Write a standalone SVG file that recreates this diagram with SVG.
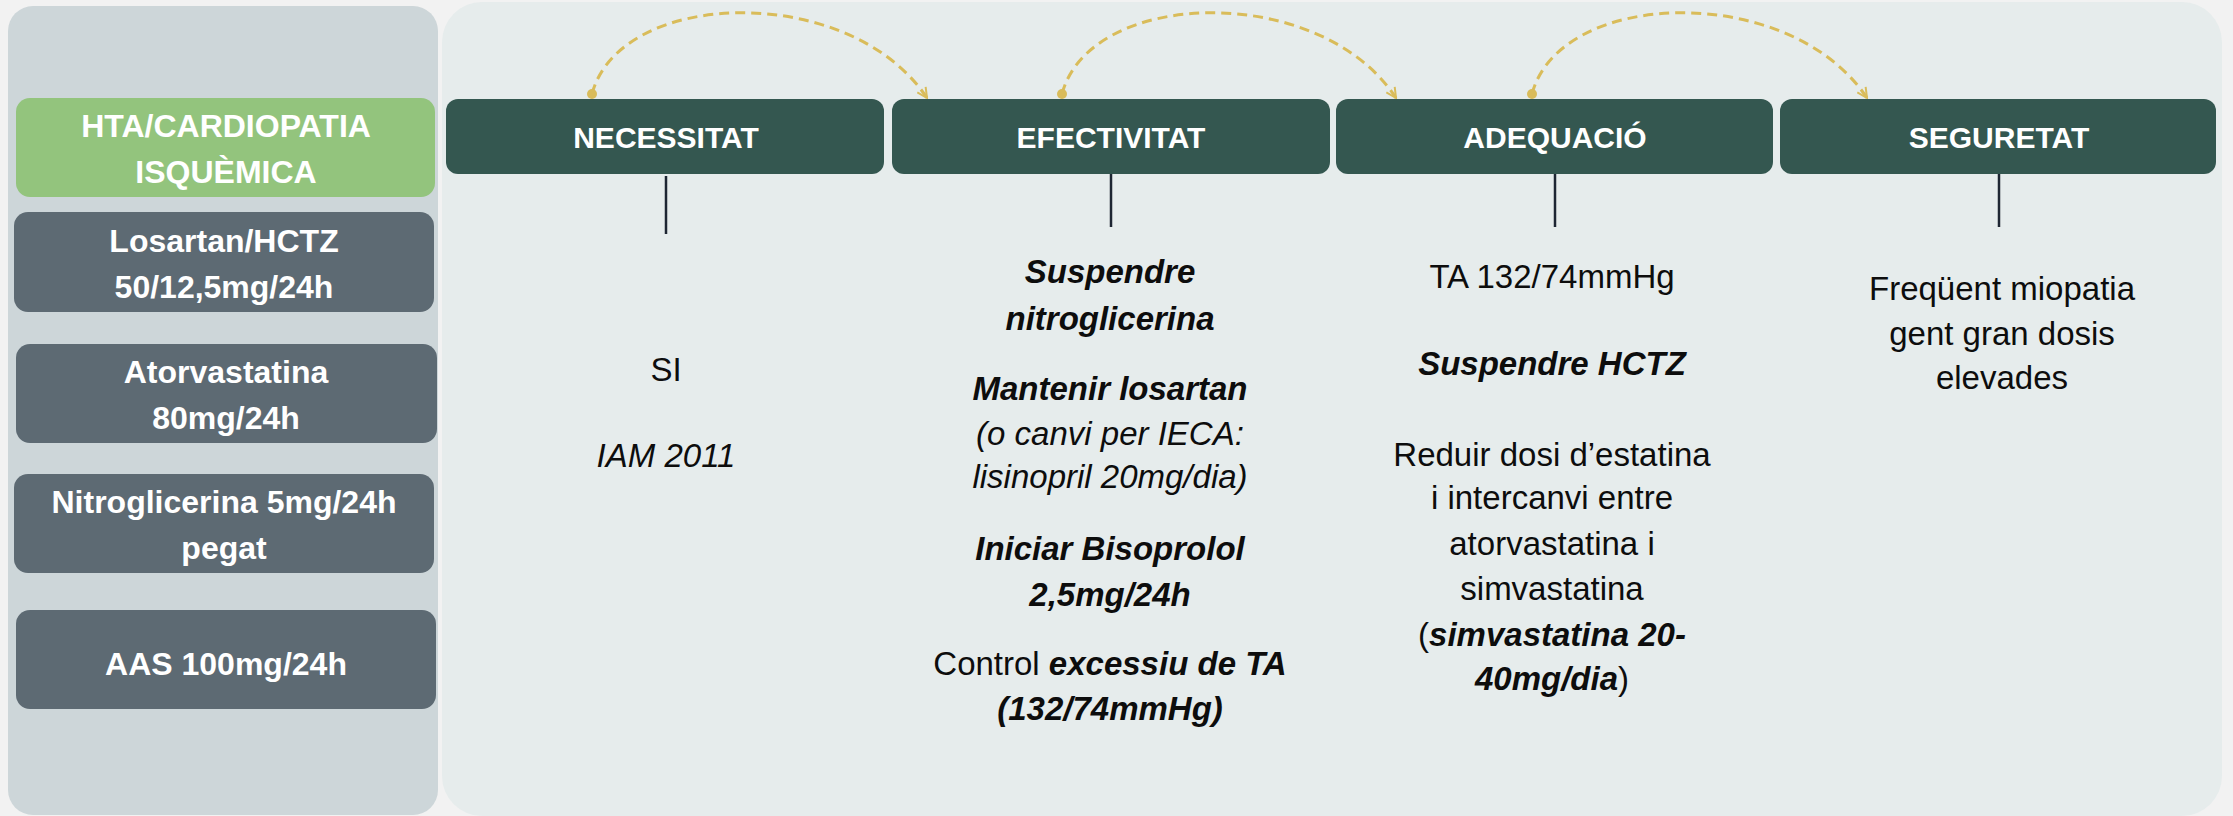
<svg xmlns="http://www.w3.org/2000/svg" width="2233" height="816" viewBox="0 0 2233 816">
<defs>
<style>
.panelL{fill:#CDD6D9}
.panelR{fill:#E6ECEC}
.green{fill:#93C47D}
.med{fill:#5D6A73}
.head{fill:#345750}
.wt{fill:#FFFFFF;font-family:"Liberation Sans",Arial,sans-serif;font-weight:bold;text-anchor:middle}
.lt{font-size:32px}
.ht{font-size:30px}
.ct{fill:#0D0D0D;font-family:"Liberation Sans",Arial,sans-serif;font-size:33px;text-anchor:middle}
.bi{font-weight:bold;font-style:italic}
.it{font-style:italic}
.stem{stroke:#1E2633;stroke-width:2.5;fill:none}
.arc{stroke:#D9BC5A;stroke-width:3;fill:none;stroke-dasharray:10 6;marker-end:url(#arr)}
.dot{fill:#D9BC5A}
</style>
<marker id="arr" viewBox="0 0 12 12" refX="11" refY="6" markerWidth="12" markerHeight="12" markerUnits="userSpaceOnUse" orient="auto">
<path d="M1,1 L11,6 L1,11" fill="none" stroke="#D9BC5A" stroke-width="2" stroke-dasharray="none"/>
</marker>
</defs>
<rect x="0" y="0" width="2233" height="816" fill="#F2F2F2"/>
<rect class="panelL" x="8" y="6" width="430" height="809" rx="25"/>
<rect class="panelR" x="442" y="2" width="1780" height="814" rx="40"/>

<g id="cat">
<rect class="green" x="16" y="98" width="419" height="99" rx="14"/>
<text class="wt lt" x="226" y="137">HTA/CARDIOPATIA</text>
<text class="wt lt" x="226" y="183">ISQUÈMICA</text>
</g>
<g id="med1">
<rect class="med" x="14" y="212" width="420" height="100" rx="14"/>
<text class="wt lt" x="224" y="252">Losartan/HCTZ</text>
<text class="wt lt" x="224" y="298">50/12,5mg/24h</text>
</g>
<g id="med2">
<rect class="med" x="16" y="344" width="421" height="99" rx="14"/>
<text class="wt lt" x="226" y="383">Atorvastatina</text>
<text class="wt lt" x="226" y="429">80mg/24h</text>
</g>
<g id="med3">
<rect class="med" x="14" y="474" width="420" height="99" rx="14"/>
<text class="wt lt" x="224" y="513">Nitroglicerina 5mg/24h</text>
<text class="wt lt" x="224" y="559">pegat</text>
</g>
<g id="med4">
<rect class="med" x="16" y="610" width="420" height="99" rx="14"/>
<text class="wt lt" x="226" y="675">AAS 100mg/24h</text>
</g>

<g id="necessitat">
<rect class="head" x="446" y="99" width="438" height="75" rx="12"/>
<text class="wt ht" x="666" y="148">NECESSITAT</text>
<text class="ct" x="666" y="381">SI</text>
<text class="ct it" x="666" y="467">IAM 2011</text>
</g>
<g id="efectivitat">
<rect class="head" x="892" y="99" width="438" height="75" rx="12"/>
<text class="wt ht" x="1111" y="148">EFECTIVITAT</text>
<text class="ct bi" x="1110" y="283">Suspendre</text>
<text class="ct bi" x="1110" y="330">nitroglicerina</text>
<text class="ct bi" x="1110" y="400">Mantenir losartan</text>
<text class="ct it" x="1110" y="445">(o canvi per IECA:</text>
<text class="ct it" x="1110" y="488">lisinopril 20mg/dia)</text>
<text class="ct bi" x="1110" y="560">Iniciar Bisoprolol</text>
<text class="ct bi" x="1110" y="606">2,5mg/24h</text>
<text class="ct" x="1110" y="675">Control <tspan class="bi">excessiu de TA</tspan></text>
<text class="ct bi" x="1110" y="720">(132/74mmHg)</text>
</g>
<g id="adequacio">
<rect class="head" x="1336" y="99" width="437" height="75" rx="12"/>
<text class="wt ht" x="1555" y="148">ADEQUACIÓ</text>
<text class="ct" x="1552" y="288">TA 132/74mmHg</text>
<text class="ct bi" x="1552" y="375">Suspendre HCTZ</text>
<text class="ct" x="1552" y="466">Reduir dosi d’estatina</text>
<text class="ct" x="1552" y="509">i intercanvi entre</text>
<text class="ct" x="1552" y="555">atorvastatina i</text>
<text class="ct" x="1552" y="600">simvastatina</text>
<text class="ct" x="1552" y="646">(<tspan class="bi">simvastatina 20-</tspan></text>
<text class="ct" x="1552" y="690"><tspan class="bi">40mg/dia</tspan>)</text>
</g>
<g id="seguretat">
<rect class="head" x="1780" y="99" width="436" height="75" rx="12"/>
<text class="wt ht" x="1999" y="148">SEGURETAT</text>
<text class="ct" x="2002" y="300">Freqüent miopatia</text>
<text class="ct" x="2002" y="345">gent gran dosis</text>
<text class="ct" x="2002" y="389">elevades</text>
</g>

<g id="connectors">
<line class="stem" x1="666" y1="176" x2="666" y2="234"/>
<line class="stem" x1="1111" y1="174" x2="1111" y2="227"/>
<line class="stem" x1="1555" y1="174" x2="1555" y2="227"/>
<line class="stem" x1="1999" y1="174" x2="1999" y2="227"/>
<path class="arc" d="M592,94 C620,-12 850,-18 927,98"/>
<circle class="dot" cx="592" cy="94" r="5"/>
<path class="arc" d="M1062,94 C1090,-12 1320,-18 1396,98"/>
<circle class="dot" cx="1062" cy="94" r="5"/>
<path class="arc" d="M1532,94 C1560,-12 1790,-18 1867,98"/>
<circle class="dot" cx="1532" cy="94" r="5"/>
</g>
</svg>
